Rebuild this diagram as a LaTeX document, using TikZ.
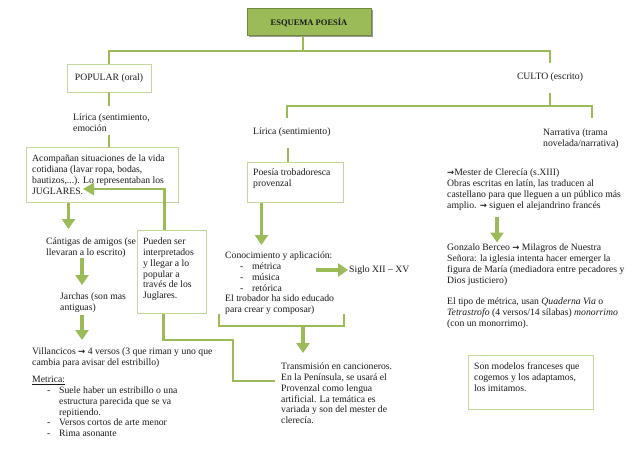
\documentclass[tikz,border=0pt]{standalone}
\usepackage{fontspec}
\setmainfont{Liberation Serif}
\newfontfamily\arrfont{DejaVu Sans}
\usetikzlibrary{arrows.meta,shadows}
\definecolor{lgreen}{HTML}{9BBB59}
\definecolor{dgreen}{HTML}{71893F}
\definecolor{bgreen}{HTML}{C3D69B}
\definecolor{ink}{HTML}{1A1A1A}
\newcommand{\mydash}{\makebox[27pt][l]{\hspace{15pt}-}}
\newcommand{\myarr}{{\arrfont\bfseries\fontsize{8.5}{10}\selectfont →}}
\newcommand{\myfnt}{\fontsize{9.7}{10.9}\selectfont}
\begin{document}
\begin{tikzpicture}[x=1pt,y=1pt,
  every node/.style={text=ink},
  txt/.style={font=\myfnt, align=left, anchor=north west, inner sep=0pt},
  boxx/.style={draw=bgreen, line width=0.9pt, fill=white, anchor=north west, inner sep=0pt},
  conn/.style={draw=lgreen, line width=2.6pt},
  barrow/.style={draw=lgreen, line width=3.6pt, -{Triangle[width=13pt,length=10pt]}},
  larrow/.style={draw=lgreen, line width=2.6pt, -{Triangle[width=12pt,length=11pt]}},
]
\useasboundingbox (0,0) rectangle (640,-452);
\fill[white] (0,0) rectangle (640,-452);

% ---------- nodes ----------
\node[draw=dgreen, fill=lgreen, line width=1pt, minimum width=124pt, minimum height=27pt, inner sep=0pt,
      drop shadow={shadow xshift=1.5pt, shadow yshift=-1.5pt, opacity=0.4, fill=black},
      font=\bfseries\fontsize{8.5}{10}\selectfont] (title) at (309,-22.5) {ESQUEMA POESÍA};

\node[boxx, anchor=center, minimum width=84pt, minimum height=28pt, font=\myfnt] (popular) at (109,-78) {POPULAR (oral)};
\node[anchor=center, minimum width=84pt, minimum height=28pt, inner sep=0pt, font=\myfnt] (culto) at (550,-77) {CULTO (escrito)};

\node[txt] (lir1) at (73,-112.5) {\strut Lírica (sentimiento,\\emoción};
\node[txt] (lir2) at (253,-126.5) {\strut Lírica (sentimiento)};
\node[txt] (narr) at (543,-127.5) {\strut Narrativa (trama\\novelada/narrativa)};

\node[boxx, minimum width=152pt, minimum height=55pt] (acomp) at (26,-147) {};
\node[txt] (acompT) at (32,-153.5) {\strut Acompañan situaciones de la vida\\cotidiana (lavar ropa, bodas,\\bautizos,...). Lo representaban los\\JUGLARES.};

\node[boxx, minimum width=96pt, minimum height=40pt] (poesia) at (247,-162) {};
\node[txt] (poesiaT) at (253,-167.5) {\strut Poesía trobadoresca\\provenzal};

\node[boxx, minimum width=69pt, minimum height=83pt] (pueden) at (137,-230) {};
\node[txt] (puedenT) at (143,-236.5) {\strut Pueden ser\\interpretados\\y llegar a lo\\popular a\\través de los\\Juglares.};

\node[txt] (cant) at (46,-236.5) {\strut Cántigas de amigos (se\\llevaran a lo escrito)};
\node[txt] (jar) at (60,-291.5) {\strut Jarchas (son mas\\antiguas)};
\node[txt] (vill) at (32,-346.5) {\strut Villancicos \myarr{} 4 versos (3 que riman y uno que\\cambia para avisar del estribillo)};
\node[txt] (metr) at (32,-374.5) {\strut\underline{Metrica:}\\
  \mydash Suele haber un estribillo o una\\
  \hspace*{27pt}estructura parecida que se va\\
  \hspace*{27pt}repitiendo.\\
  \mydash Versos cortos de arte menor\\
  \mydash Rima asonante};

\node[txt] (conoc) at (225,-250.5) {\strut Conocimiento y aplicación:\\
  \mydash métrica\\
  \mydash música\\
  \mydash retórica\\
  El trobador ha sido educado\\
  para crear y composar)};
\node[font=\myfnt, anchor=west, inner sep=0pt] (siglo) at (349,-270) {Siglo XII – XV};

\node[txt] (trans) at (281,-361.5) {\strut Transmisión en cancioneros.\\En la Península, se usará el\\Provenzal como lengua\\artificial. La temática es\\variada y son del mester de\\clerecía.};

\node[txt] (mester) at (447,-167.5) {\strut \myarr Mester de Clerecía (s.XIII)\\Obras escritas en latín, las traducen al\\castellano para que lleguen a un público más\\amplio. \myarr{} siguen el alejandrino francés};
\node[txt] (gonz) at (447,-242.5) {\strut Gonzalo Berceo \myarr{} Milagros de Nuestra\\Señora: la iglesia intenta hacer emerger la\\figura de María (mediadora entre pecadores y\\Dios justiciero)};
\node[txt] (tipo) at (447,-296.5) {\strut El tipo de métrica, usan \textit{Quaderna Via} o\\\textit{Tetrastrofo} (4 versos/14 sílabas) \textit{monorrimo}\\(con un monorrimo).};

\node[boxx, minimum width=125pt, minimum height=54pt] (son) at (468,-355) {};
\node[txt] (sonT) at (474,-361.5) {\strut Son modelos franceses que\\cogemos y los adaptamos,\\los imitamos.};

% ---------- connectors ----------
\coordinate (tj) at (303,-51);
\draw[conn] ([xshift=-6pt]title.south) -- (tj);
\draw[conn] (popular.north) |- (tj) -| (culto.north);

\draw[conn, shorten >=6.5pt] (popular.south) -- (popular.south |- lir1.north);
\draw[conn, shorten <=3.5pt] (popular.south |- lir1.south) -- (popular.south |- acomp.north);

\coordinate (cj) at (550,-106);
\coordinate (lir2j) at (287,-118);
\coordinate (narrj) at (592,-118);
\draw[conn, shorten <=2pt] (culto.south) -- (cj);
\draw[conn] (lir2j) |- (cj) -| (narrj);

\coordinate (pj) at (288,-148);
\draw[conn] (pj) -- (pj |- poesia.north);

\draw[barrow, shorten >=5.5pt] ([xshift=-34pt]poesia.south) -- ([xshift=-34pt]poesia.south |- conoc.north);
\draw[barrow] ([xshift=-33pt]siglo.west) -- ([xshift=-1pt]siglo.west);

\coordinate (bl) at (219,-314);
\coordinate (br) at (344,-314);
\coordinate (bm) at (303,-326);
\draw[conn] (bl) |- (bm) -| (br);
\draw[barrow, shorten >=8.5pt] (bm) -- (bm |- trans.north);

\coordinate (pt1) at (233,-340);
\coordinate (te) at (275,-381);
\draw[conn] ([xshift=-8.5pt]pueden.south) |- (pt1) |- (te);

\coordinate (jg) at (83,-189);
\draw[larrow] ([xshift=-7.5pt]pueden.north) |- (jg);

\draw[barrow, shorten >=7.5pt] ([xshift=-34pt]acomp.south) -- ([xshift=-34pt]acomp.south |- cant.north);
\coordinate (cj1) at (82,-258);
\draw[barrow, shorten >=6.5pt] (cj1) -- (cj1 |- jar.north);
\coordinate (jv) at (82,-315);
\draw[barrow, shorten >=6.5pt] (jv) -- (jv |- vill.north);
\coordinate (mg) at (497,-217);
\draw[barrow] (mg) -- (mg |- gonz.north);
\end{tikzpicture}
\end{document}
